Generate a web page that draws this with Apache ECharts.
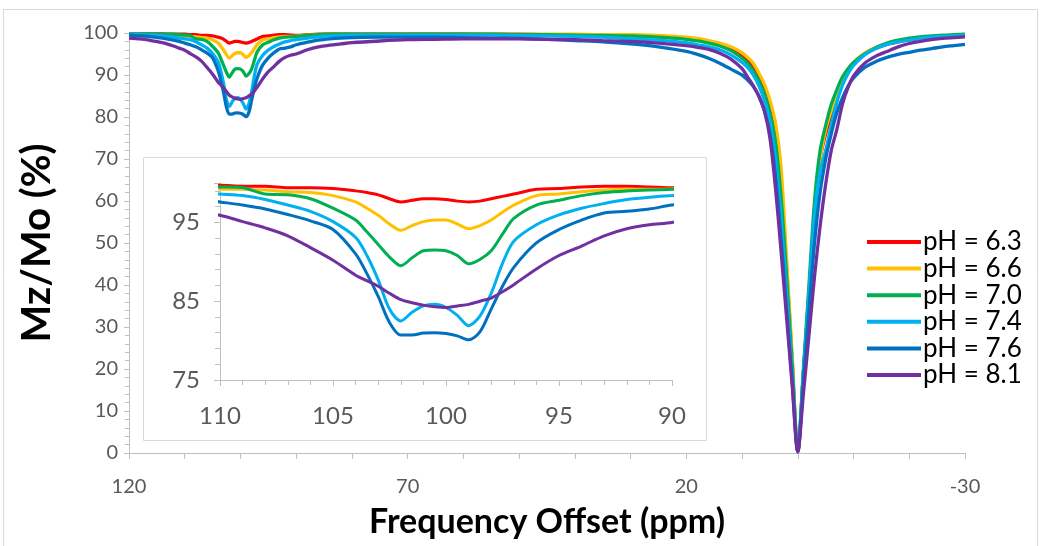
<!DOCTYPE html>
<html>
<head>
<meta charset="utf-8">
<script src="https://cdn.jsdelivr.net/npm/echarts@6/dist/echarts.min.js"></script>
<style>html,body{margin:0;padding:0;background:#fff}#c{width:1042px;height:546px}</style>
</head>
<body>
<div id="c"></div>
<script>
// Frequency offsets (ppm)
var X = [120,118,116,114,112,111,110,109,108,107,106,105,104,103.5,103,102.5,102,101.5,101,100.5,100,99.5,99,98.5,98,97.5,97,96,95,94,93,92,91,90,88,86,84,82,80,75,70,65,60,55,50,45,40,35,30,25,20,18,16,14,12,10,9,8,7,6,5,4,3,2,1,0,-1,-2,-3,-4,-5,-6,-7,-8,-9,-10,-12,-14,-16,-18,-20,-22,-24,-26,-28,-30];

var names = ['pH = 6.3','pH = 6.6','pH = 7.0','pH = 7.4','pH = 7.6','pH = 8.1'];
var colors = ['#FF0000','#FFC000','#00B050','#00B0F0','#0070C0','#7030A0'];

var pH63 = [99.8,99.8,99.8,99.8,99.7,99.7,99.7,99.6,99.6,99.4,99.4,99.3,99.0,98.8,98.5,98.0,97.6,97.8,98.0,98.0,97.9,97.7,97.6,97.7,98.0,98.3,98.6,99.2,99.3,99.5,99.6,99.6,99.5,99.4,99.6,99.7,99.8,99.8,99.8,99.8,99.8,99.8,99.8,99.7,99.7,99.6,99.6,99.5,99.4,99.1,98.7,98.3,97.8,97.1,96.1,94.5,93.3,91.7,89.4,86.5,82.5,76,64,44,22,0.5,19,38,56,70,76,80.5,85,88.5,91,92.8,95,96.4,97.3,97.9,98.4,98.8,99.0,99.2,99.4,99.5];
var pH66 = [99.7,99.7,99.6,99.6,99.5,99.4,99.25,99.2,99.1,98.9,98.8,98.4,97.6,96.8,95.9,94.8,94.0,94.6,95.1,95.3,95.3,94.8,94.2,94.6,95.3,96.3,97.2,98.4,98.6,98.9,99.1,99.2,99.2,99.25,99.5,99.6,99.7,99.7,99.7,99.7,99.7,99.7,99.7,99.7,99.7,99.7,99.7,99.6,99.6,99.4,99.0,98.7,98.2,97.6,96.7,95.3,94.2,92.8,90.5,87.8,84,78.5,68,46,23,0.5,19,38,57,70,77,81.5,85.5,88.8,91.2,93,95.2,96.6,97.4,98,98.5,98.9,99.1,99.3,99.4,99.5];
var pH70 = [99.8,99.8,99.8,99.7,99.7,99.6,99.5,99.4,98.6,98.5,98.0,96.8,95.3,93.8,92.2,90.6,89.5,90.5,91.4,91.5,91.4,90.8,89.75,90.3,91.4,93.5,95.5,97.2,97.8,98.4,98.8,99.0,99.1,99.2,99.4,99.6,99.7,99.7,99.7,99.7,99.7,99.7,99.7,99.7,99.6,99.6,99.5,99.4,99.3,99.0,98.5,98.1,97.6,96.9,95.8,94,92.8,91,88.7,85.5,81,74,61,42,21,0.5,20,40,60,72,78,83,86.5,89.5,91.5,93,95,96.5,97.6,98.3,98.8,99.1,99.3,99.5,99.6,99.7];
var pH74 = [99.7,99.6,99.5,99.3,99.0,98.8,98.6,98.4,97.9,97.2,96.4,95.1,93.1,90.8,87.7,84.0,82.5,83.6,84.4,84.6,84.2,83.2,81.9,83.1,86.0,89.8,92.6,94.7,95.95,96.8,97.4,97.9,98.2,98.4,98.8,99.1,99.3,99.4,99.5,99.5,99.5,99.5,99.5,99.5,99.4,99.3,99.2,99.0,98.6,98.3,97.7,97.2,96.7,96.0,94.8,93,91.8,90,87.5,84,79,70,56,38,19,0.3,19,38,57,67,72,78,83.5,87.5,90.3,92.3,94.8,96.3,97.3,97.9,98.3,98.7,99.0,99.2,99.3,99.4];
var pH76 = [99.5,99.3,99.1,98.8,98.3,98.0,97.6,97.2,96.7,96.0,95.2,94.1,91.0,88.5,85.6,82.3,80.7,80.7,80.95,81.0,80.9,80.6,80.1,81.1,84.0,86.9,89.3,92.4,94.1,95.3,96.2,96.4,96.7,97.2,97.8,98.3,98.6,98.8,98.9,99.0,99.0,99.0,98.9,98.8,98.7,98.5,98.2,97.9,97.4,96.7,95.6,94.9,94.0,92.8,91.4,90,88.8,87.3,85,81.5,76,66,51,34,17,0.3,17,34,50,62,70,76,81,84.5,87.3,89.3,91.8,93.2,94.2,94.9,95.4,95.9,96.3,96.7,97.0,97.3];
var pH81 = [98.8,98.6,98.2,97.7,96.9,96.4,95.9,95.1,94.3,93.3,91.8,90.2,88.3,87.6,86.9,86.0,85.2,84.8,84.5,84.3,84.2,84.4,84.6,85.0,85.4,86.2,87.1,89.1,90.8,92.0,93.3,94.2,94.7,95.0,96.0,96.7,97.1,97.4,97.7,98.1,98.4,98.5,98.6,98.6,98.6,98.5,98.4,98.2,98.0,97.6,97.0,96.6,96.1,95.2,93.8,91.5,89.5,87.5,85,81.5,75,63,48,32,16,0.3,14,28,42,54,64,72,77,83,87,89.8,92.8,94.5,95.6,96.7,97.5,98.0,98.4,98.7,98.9,99.1];

var seriesValues = [pH63, pH66, pH70, pH74, pH76, pH81];

// Tick labels
var mainXLabels = [120, 70, 20, -30];
var insetYLabels = [75, 85, 95];

var fontFam = 'Lato, "Open Sans", sans-serif';
var labelColor = '#595959';
var axisCol = '#bfbfbf';

function pairs(vals){ return X.map(function(x,i){ return [x, vals[i]]; }); }

var series = [];
seriesValues.forEach(function(vals, k){
  series.push({
    name: names[k], type: 'line', xAxisIndex: 0, yAxisIndex: 0,
    data: pairs(vals), showSymbol: false, smooth: 0.3,
    lineStyle: {width: 3.3, color: colors[k]}, itemStyle: {color: colors[k]}, z: 3
  });
});
seriesValues.forEach(function(vals, k){
  series.push({
    name: names[k], type: 'line', xAxisIndex: 1, yAxisIndex: 1,
    data: pairs(vals), showSymbol: false, smooth: 0.3, clip: true,
    lineStyle: {width: 3, color: colors[k]}, itemStyle: {color: colors[k]}, z: 10
  });
});

var chart = echarts.init(document.getElementById('c'), null, {renderer: 'canvas'});
chart.setOption({
  animation: false,
  backgroundColor: '#fff',
  graphic: [
    {type: 'rect', shape: {x: 3.5, y: 9.5, width: 1034, height: 560}, style: {fill: 'none', stroke: '#d9d9d9', lineWidth: 1}, z: 0, silent: true},
    {type: 'rect', shape: {x: 143.5, y: 157.5, width: 563, height: 283}, style: {fill: '#fff', stroke: '#d9d9d9', lineWidth: 1}, z: 5, silent: true}
  ],
  legend: {
    orient: 'vertical', left: 862, top: 224,
    itemWidth: 54, itemHeight: 4, itemGap: 0.6, icon: 'rect',
    data: names,
    textStyle: {fontSize: 26, color: '#000', fontFamily: fontFam, padding: [0,0,0,-3]}
  },
  grid: [
    {left: 129, right: 77, top: 33, bottom: 93},
    {left: 220, right: 370, top: 183, bottom: 166, z: 6}
  ],
  xAxis: [
    {type: 'value', inverse: true, min: -30, max: 120, interval: 10, gridIndex: 0,
     name: 'Frequency Offset (ppm)', nameLocation: 'middle', nameGap: 52,
     nameTextStyle: {fontSize: 34, fontWeight: 'bold', color: '#000', fontFamily: fontFam},
     axisLine: {onZero: false, lineStyle: {color: axisCol, width: 1}},
     axisTick: {show: true, length: 6, lineStyle: {color: axisCol}},
     splitLine: {show: false},
     axisLabel: {fontSize: 20, color: labelColor, fontFamily: fontFam, margin: 24,
       formatter: function(v){ return mainXLabels.indexOf(v) >= 0 ? String(v) : ''; }}
    },
    {type: 'value', inverse: true, min: 90, max: 110, interval: 5, gridIndex: 1, z: 9,
     axisLine: {onZero: false, lineStyle: {color: axisCol, width: 1}},
     axisTick: {show: true, length: 6, lineStyle: {color: axisCol}},
     minorTick: {show: true, splitNumber: 5, length: 5, lineStyle: {color: axisCol}},
     splitLine: {show: false}, minorSplitLine: {show: false},
     axisLabel: {fontSize: 24, color: labelColor, fontFamily: fontFam, margin: 24}
    }
  ],
  yAxis: [
    {type: 'value', min: 0, max: 100, interval: 10, gridIndex: 0,
     name: 'Mz/Mo (%)', nameLocation: 'middle', nameGap: 72, nameRotate: 90,
     nameTextStyle: {fontSize: 40, fontWeight: 'bold', color: '#000', fontFamily: fontFam},
     axisLine: {show: true, onZero: false, lineStyle: {color: axisCol, width: 1}},
     axisTick: {show: true, length: 5, lineStyle: {color: axisCol}},
     minorTick: {show: true, splitNumber: 5, length: 4, lineStyle: {color: axisCol}},
     splitLine: {show: false}, minorSplitLine: {show: false},
     axisLabel: {fontSize: 20, color: labelColor, fontFamily: fontFam, margin: 11}
    },
    {type: 'value', min: 75, max: 100, interval: 10, gridIndex: 1, z: 9,
     axisLine: {show: true, onZero: false, lineStyle: {color: axisCol, width: 1}},
     axisTick: {show: true, length: 6, lineStyle: {color: axisCol}},
     minorTick: {show: true, splitNumber: 5, length: 5, lineStyle: {color: axisCol}},
     splitLine: {show: false}, minorSplitLine: {show: false},
     axisLabel: {fontSize: 24, color: labelColor, fontFamily: fontFam, margin: 20,
       formatter: function(v){ return insetYLabels.indexOf(v) >= 0 ? String(v) : ''; }}
    }
  ],
  series: series
});
</script>
</body>
</html>
